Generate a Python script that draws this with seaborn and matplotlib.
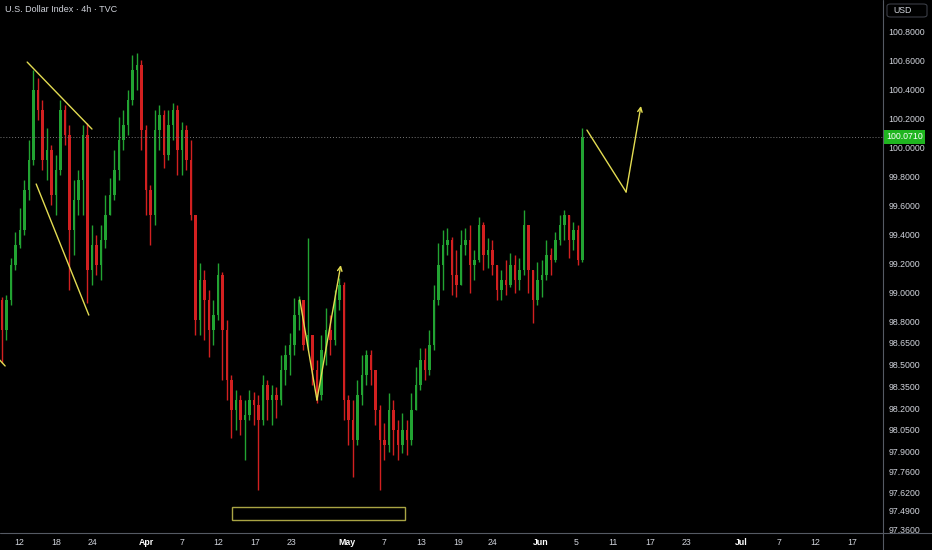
import numpy as np
import pandas as pd
import matplotlib
matplotlib.use("Agg")
import matplotlib.pyplot as plt
import seaborn as sns
from matplotlib.lines import Line2D
from matplotlib.patches import Rectangle, FancyBboxPatch
from matplotlib.transforms import blended_transform_factory

# --- datos (velas 4h agrupadas) ---
first_open = 98.945
close = [98.738, 98.945, 99.186, 99.324, 99.428, 99.703, 99.910, 100.393, 100.255, 99.910,
         99.979, 99.669, 99.841, 100.255, 100.083, 99.428, 99.634, 99.772, 100.083, 99.152,
         99.324, 99.186, 99.359, 99.531, 99.669, 99.841, 100.048, 100.152, 100.324, 100.531,
         100.566, 100.117, 99.703, 99.531, 100.117, 100.221, 99.945, 100.152, 100.255, 99.979,
         100.117, 99.910, 99.531, 98.807, 99.083, 98.945, 98.738, 98.841, 99.117, 98.738,
         98.393, 98.186, 98.255, 98.117, 98.152, 98.255, 98.221, 98.117, 98.359, 98.255,
         98.290, 98.255, 98.462, 98.566, 98.634, 98.841, 98.945, 98.634, 98.703, 98.462,
         98.290, 98.600, 98.738, 98.669, 98.945, 99.048, 98.255, 98.117, 97.979, 98.290,
         98.428, 98.566, 98.462, 98.186, 97.979, 97.945, 98.186, 98.048, 97.945, 98.048,
         97.979, 98.186, 98.359, 98.531, 98.462, 98.634, 98.945, 99.186, 99.324, 99.359,
         99.117, 99.048, 99.324, 99.359, 99.186, 99.221, 99.462, 99.255, 99.290, 99.186,
         99.014, 99.083, 99.048, 99.186, 99.083, 99.152, 99.462, 99.152, 98.945, 99.083,
         99.117, 99.255, 99.221, 99.359, 99.462, 99.531, 99.359, 99.428, 99.221, 100.071]
high = [98.966, 98.979, 99.234, 99.414, 99.579, 99.772, 100.048, 100.531, 100.476, 100.324,
        100.131, 100.014, 99.945, 100.324, 100.290, 100.152, 99.772, 99.841, 100.152, 100.166,
        99.462, 99.393, 99.462, 99.669, 99.786, 99.979, 100.207, 100.255, 100.393, 100.634,
        100.648, 100.600, 100.152, 99.738, 100.255, 100.290, 100.255, 100.255, 100.303, 100.290,
        100.172, 100.152, 100.048, 99.186, 99.200, 99.152, 99.014, 98.945, 99.200, 99.138,
        98.807, 98.428, 98.324, 98.290, 98.255, 98.324, 98.310, 98.290, 98.428, 98.393,
        98.359, 98.345, 98.566, 98.634, 98.717, 98.959, 98.972, 98.945, 99.372, 98.703,
        98.531, 98.703, 98.890, 98.841, 99.014, 99.097, 99.069, 98.290, 98.255, 98.393,
        98.566, 98.600, 98.600, 98.428, 98.221, 98.097, 98.303, 98.255, 98.117, 98.166,
        98.117, 98.303, 98.483, 98.614, 98.614, 98.738, 99.048, 99.338, 99.428, 99.441,
        99.379, 99.290, 99.428, 99.441, 99.462, 99.290, 99.517, 99.483, 99.372, 99.359,
        99.186, 99.152, 99.221, 99.269, 99.255, 99.234, 99.566, 99.441, 99.152, 99.207,
        99.221, 99.359, 99.303, 99.414, 99.531, 99.566, 99.483, 99.483, 99.462, 100.131]
low = [98.510, 98.669, 98.910, 99.152, 99.303, 99.393, 99.634, 99.876, 100.186, 99.841,
       99.772, 99.600, 99.531, 99.807, 100.014, 99.014, 99.255, 99.531, 99.531, 98.924,
       99.048, 99.117, 99.083, 99.303, 99.566, 99.634, 99.772, 99.979, 100.083, 100.290,
       100.393, 99.979, 99.531, 99.324, 99.462, 99.979, 99.855, 99.910, 100.048, 99.807,
       99.807, 99.841, 99.497, 98.703, 98.703, 98.669, 98.552, 98.634, 98.807, 98.393,
       98.255, 97.993, 98.048, 98.014, 97.841, 98.117, 98.083, 97.634, 98.083, 98.117,
       98.083, 98.131, 98.221, 98.359, 98.428, 98.566, 98.738, 98.600, 98.600, 98.359,
       98.234, 98.255, 98.497, 98.566, 98.634, 98.876, 98.117, 97.945, 97.724, 97.945,
       98.221, 98.359, 98.359, 98.083, 97.634, 97.841, 97.897, 97.876, 97.841, 97.890,
       97.876, 97.945, 98.255, 98.324, 98.393, 98.428, 98.600, 98.910, 99.014, 99.255,
       98.979, 98.966, 99.048, 99.255, 98.993, 99.083, 99.207, 99.152, 99.166, 99.117,
       98.945, 98.945, 98.979, 99.034, 98.993, 99.014, 99.117, 98.993, 98.786, 98.910,
       98.966, 99.083, 99.117, 99.207, 99.324, 99.359, 99.234, 99.290, 99.186, 99.207]
last_price = 100.071

x_tick_pos = [3.8, 12.0, 20.0, 32.0, 40.0, 48.0, 56.2, 64.4, 76.7, 84.9, 93.1,
              101.3, 109.1, 119.8, 127.6, 135.8, 144.0, 152.2, 164.4, 172.7, 180.7, 188.9]
x_tick_labels = ["12", "18", "24", "Apr", "7", "12", "17", "23", "May", "7", "13",
                 "19", "24", "Jun", "5", "11", "17", "23", "Jul", "7", "12", "17"]
y_ticks = [100.8, 100.6, 100.4, 100.2, 100.0, 99.8, 99.6, 99.4, 99.2, 99.0, 98.8,
           98.65, 98.5, 98.35, 98.2, 98.05, 97.9, 97.76, 97.62, 97.49, 97.36]

# dibujos del usuario (barra, precio)
wedge_top_x, wedge_top_y = [5.6, 20.0], [100.586, 100.124]
wedge_bot_x, wedge_bot_y = [7.6, 19.3], [99.745, 98.841]
stub_x, stub_y = [-0.5, 0.7], [98.531, 98.490]
w_path_x, w_path_y = [66.2, 70.0, 75.3], [98.945, 98.255, 99.186]
proj_x, proj_y = [130.0, 138.7, 142.0], [100.117, 99.690, 100.283]
box_x, box_y = [51.1, 89.6], [97.428, 97.517]

GREEN = "#22a332"
RED = "#d22020"
YELLOW = "#e3dc52"
TXT = "#d1d4dc"
FS = 6.3

opens = [first_open] + close[:-1]
df = pd.DataFrame({"bar": np.arange(len(close)), "open": opens, "close": close,
                   "high": high, "low": low})
df["high"] = df[["high", "open", "close"]].max(axis=1)
df["low"] = df[["low", "open", "close"]].min(axis=1)
df["dir"] = np.where(df["close"] >= df["open"], "up", "down")
colors = df["dir"].map({"up": GREEN, "down": RED})

sns.set_theme(style="dark", rc={"axes.facecolor": "black", "figure.facecolor": "black"})
plt.rcParams['font.family'] = ['Liberation Sans', 'DejaVu Sans']

fig = plt.figure(figsize=(9.32, 5.5), dpi=100)
ax = fig.add_axes([0, 17 / 550, 883 / 932, 533 / 550])
ax.set_facecolor("black")

# velas
ax.vlines(df["bar"], df["low"], df["high"], colors=colors, linewidth=1.0)
body_bottom = df[["open", "close"]].min(axis=1)
body_h = (df["close"] - df["open"]).abs().clip(lower=0.008)
ax.bar(df["bar"], body_h, bottom=body_bottom, width=0.62, color=colors, linewidth=0)

# linea de ultimo precio
ax.axhline(last_price, color="#777777", linestyle=(0, (1, 2)), linewidth=0.7)

# dibujos amarillos
ax.plot(wedge_top_x, wedge_top_y, color=YELLOW, lw=1)
ax.plot(wedge_bot_x, wedge_bot_y, color=YELLOW, lw=1)
ax.plot(stub_x, stub_y, color=YELLOW, lw=1)
for px, py in [(w_path_x, w_path_y), (proj_x, proj_y)]:
    ax.plot(px[:-1], py[:-1], color=YELLOW, lw=1)
    ax.annotate("", xy=(px[-1], py[-1]), xytext=(px[-2], py[-2]),
                arrowprops=dict(arrowstyle="->", color=YELLOW, lw=1,
                                shrinkA=0, shrinkB=0, mutation_scale=8))
ax.add_patch(Rectangle((box_x[0], box_y[0]), box_x[1] - box_x[0], box_y[1] - box_y[0],
                       fill=False, edgecolor="#a9a444", linewidth=1))

ax.set_xlim(-0.44, 195.8)
ax.set_ylim(97.338, 101.014)
for s in ax.spines.values():
    s.set_visible(False)
ax.grid(False)

ax.yaxis.tick_right()
ax.set_yticks(y_ticks)
ax.set_yticklabels([f"{v:.4f}" for v in y_ticks])
ax.tick_params(axis="y", length=0, pad=4, labelsize=FS, labelcolor=TXT)
ax.set_xticks(x_tick_pos)
ax.set_xticklabels(x_tick_labels)
ax.tick_params(axis="x", length=0, pad=3.5, labelsize=FS, labelcolor=TXT)
for lbl in ax.get_xticklabels():
    if lbl.get_text() in ("Apr", "May", "Jun", "Jul"):
        lbl.set_fontweight("bold")
        lbl.set_color("white")

# etiqueta verde de precio
trans = blended_transform_factory(ax.transAxes, ax.transData)
ax.text(1 + 3 / 883, last_price, f"{last_price:.4f}", transform=trans, fontsize=FS,
        color="white", va="center", ha="left", clip_on=False,
        bbox=dict(boxstyle="square,pad=0.3", facecolor="#1fb51f", edgecolor="none"))

# ejes de TradingView
fig.add_artist(Line2D([883 / 932, 883 / 932], [0, 1], color="#555a63", lw=0.8))
fig.add_artist(Line2D([0, 1], [17 / 550, 17 / 550], color="#555a63", lw=0.8))

fig.text(5 / 932, 1 - 10 / 550, "U.S. Dollar Index · 4h · TVC", fontsize=6.5,
         color=TXT, va="center", ha="left")
fig.add_artist(FancyBboxPatch((887 / 932, 1 - 17 / 550), 40 / 932, 13 / 550,
                              boxstyle="round,pad=0,rounding_size=0.004",
                              facecolor="black", edgecolor="#3a3d45", lw=0.8,
                              transform=fig.transFigure))
fig.text(893 / 932, 1 - 10.5 / 550, "USD", fontsize=FS, color=TXT, va="center", ha="left")

plt.savefig("out.png", dpi=100, facecolor="black")
plt.close()
